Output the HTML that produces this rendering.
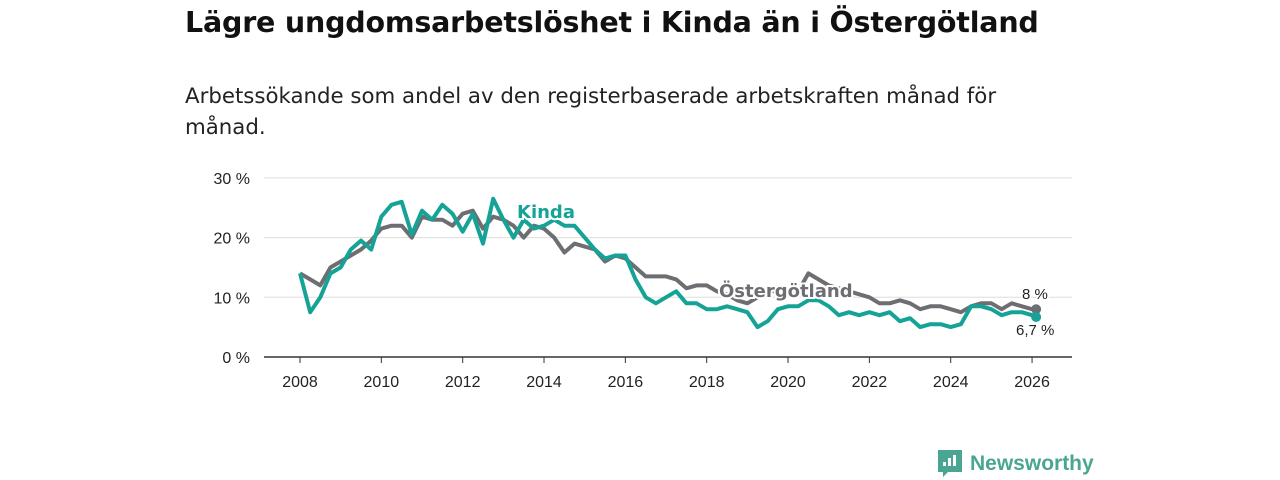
<!DOCTYPE html>
<html><head><meta charset="utf-8"><style>
body{margin:0;width:1280px;height:480px;background:#fff;font-family:"Liberation Sans","DejaVu Sans",sans-serif;overflow:hidden;position:relative}
h1{position:absolute;left:185px;top:6px;margin:0;font-family:"DejaVu Sans",sans-serif;font-size:28.5px;font-weight:bold;color:#111;letter-spacing:-0.2px;white-space:nowrap}
p{position:absolute;left:185px;top:81px;margin:0;font-family:"DejaVu Sans",sans-serif;font-size:21.3px;line-height:31px;color:#222;width:860px}
svg{position:absolute;left:0;top:0}
</style></head><body>
<h1>Lägre ungdomsarbetslöshet i Kinda än i Östergötland</h1>
<p>Arbetssökande som andel av den registerbaserade arbetskraften månad för månad.</p>
<svg width="1280" height="480" id="chart"></svg>
<script>
const dates=[2008,2008.25,2008.5,2008.75,2009,2009.25,2009.5,2009.75,2010,2010.25,2010.5,2010.75,2011,2011.25,2011.5,2011.75,2012,2012.25,2012.5,2012.75,2013,2013.25,2013.5,2013.75,2014,2014.25,2014.5,2014.75,2015,2015.25,2015.5,2015.75,2016,2016.25,2016.5,2016.75,2017,2017.25,2017.5,2017.75,2018,2018.25,2018.5,2018.75,2019,2019.25,2019.5,2019.75,2020,2020.25,2020.5,2020.75,2021,2021.25,2021.5,2021.75,2022,2022.25,2022.5,2022.75,2023,2023.25,2023.5,2023.75,2024,2024.25,2024.5,2024.75,2025,2025.25,2025.5,2025.75,2026,2026.1];
const ostergotland=[14,13,12,15,16,17,18,19.5,21.5,22,22,20,23.5,23,23,22,24,24.5,21.5,23.5,23,22,20,22,21.5,20,17.5,19,18.5,18,16,17,16.5,15,13.5,13.5,13.5,13,11.5,12,12,11,10.5,9.5,9,10,11,11,11,11,14,13,12,11.5,11,10.5,10,9,9,9.5,9,8,8.5,8.5,8,7.5,8.5,9,9,8,9,8.5,8,8];
const kinda=[14,7.5,10,14,15,18,19.5,18,23.5,25.5,26,20.5,24.5,23,25.5,24,21,24,19,26.5,23,20,23,21.5,22,23,22,22,20,18,16.5,17,17,13,10,9,10,11,9,9,8,8,8.5,8,7.5,5,6,8,8.5,8.5,9.5,9.5,8.5,7,7.5,7,7.5,7,7.5,6,6.5,5,5.5,5.5,5,5.5,8.5,8.5,8,7,7.5,7.5,7,6.7];
const yTicks=[0,10,20,30];
const xTicks=[2008,2010,2012,2014,2016,2018,2020,2022,2024,2026];
const X=d=>300+(d-2008)*40.67, Y=v=>357-v*5.97;
const svg=document.getElementById('chart'),NS='http://www.w3.org/2000/svg';
function el(t,a,txt){const e=document.createElementNS(NS,t);for(const k in a)e.setAttribute(k,a[k]);if(txt!=null)e.textContent=txt;svg.appendChild(e);return e;}
yTicks.forEach(v=>{
 const g=el('line',{x1:264,x2:1072,y1:Y(v),y2:Y(v),stroke:v===0?'#333':'#ddd','stroke-width':v===0?1.5:1});
 
 
 const t=el('text',{x:250,y:Y(v)+6,'text-anchor':'end','font-size':16,fill:'#222'},v+' %');
 
 
});
xTicks.forEach(d=>{
 const l=el('line',{x1:X(d),x2:X(d),y1:357,y2:363,stroke:'#333'});
 
 
 const t=el('text',{x:X(d),y:387,'text-anchor':'middle','font-size':16,fill:'#222'},d);
 
 
});
function line(vals,color,name){
 const p=el('path',{d:vals.map((v,i)=>(i?'L':'M')+X(dates[i]).toFixed(1)+','+Y(v).toFixed(1)).join(''),fill:'none',stroke:color,'stroke-width':4,'stroke-linejoin':'round'});
 
 
 const c=el('circle',{cx:X(dates[dates.length-1]),cy:Y(vals[vals.length-1]),r:5,fill:color});
 
 
}
line(ostergotland,'#6d6d72','ostergotland-line');
line(kinda,'#14a396','kinda-line');
const k=el('text',{x:517,y:218,'font-size':18,'font-family':'DejaVu Sans, sans-serif','font-weight':'bold',fill:'#14a396',stroke:'#fff','stroke-width':4,'paint-order':'stroke'},'Kinda');


const o=el('text',{x:719,y:297,'font-size':18,'font-family':'DejaVu Sans, sans-serif','font-weight':'bold',fill:'#6d6d72',stroke:'#fff','stroke-width':4,'paint-order':'stroke'},'Östergötland');


const e1=el('text',{x:1022,y:299,'font-size':15,fill:'#222',stroke:'#fff','stroke-width':3,'paint-order':'stroke'},'8 %');


const e2=el('text',{x:1016,y:335,'font-size':15,fill:'#222',stroke:'#fff','stroke-width':3,'paint-order':'stroke'},'6,7 %');


const lg=el('g',{});


const r=el('path',{d:'M938 450h24v22h-14l-5 5v-5h-5z',fill:'#4aa693'});
lg.appendChild(r);
[[943,462,4],[948,458,8],[953,455,11]].forEach(b=>{lg.appendChild(el('rect',{x:b[0],y:b[1],width:3,height:b[2],fill:'#fff'}));});
lg.appendChild(el('text',{x:970,y:470,'font-size':21,'font-weight':'bold',fill:'#4aa693'},'Newsworthy'));
svg.appendChild(lg);
</script>
</body></html>
